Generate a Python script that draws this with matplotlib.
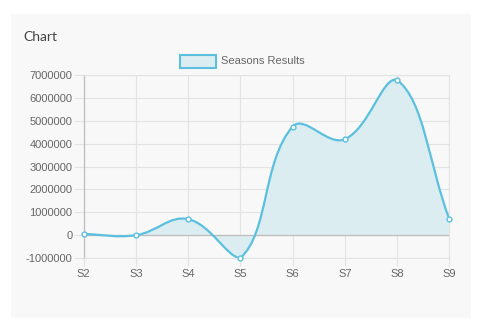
import numpy as np
import matplotlib
matplotlib.use("Agg")
import matplotlib.pyplot as plt
from matplotlib.path import Path
from matplotlib.patches import PathPatch, Rectangle

# data
seasons = ["S2", "S3", "S4", "S5", "S6", "S7", "S8", "S9"]
results = [50000, 0, 700000, -1000000, 4750000, 4200000, 6800000, 700000]
y_ticks = [-1000000, 0, 1000000, 2000000, 3000000, 4000000, 5000000, 6000000, 7000000]

line_color = "#5bc0de"
fill_color = "#dcedf2"
grid_color = "#e3e3e3"
text_color = "#666666"

W, H = 494, 335
fig = plt.figure(figsize=(W / 100, H / 100), dpi=100)
fig.patch.set_facecolor("white")

# light gray card behind the chart
fig.patches.append(Rectangle((11 / W, 1 - 318 / H), 460 / W, 304 / H,
                             transform=fig.transFigure, facecolor="#f8f8f8",
                             edgecolor="none", zorder=-10))
fig.text(23 / W, 1 - 37 / H, "Chart", fontsize=10, color="#444444",
         family="Lato", va="center", ha="left")

left, right, top, bottom = 83.7, 449.3, 75.3, 258.0
ax = fig.add_axes([left / W, 1 - bottom / H, (right - left) / W, (bottom - top) / H])
ax.set_facecolor("none")
ax.set_zorder(1)

ymin, ymax = -1000000, 7000000
n = len(seasons)
xs = np.arange(n, dtype=float)
ys = np.array(results, dtype=float)

# Chart.js style spline (tension 0.4), distances taken in pixel space
sx = (right - left) / (n - 1)
sy = (bottom - top) / (ymax - ymin)
tension = 0.4
ctrl_prev, ctrl_next = [], []
for i in range(n):
    p = (xs[max(i - 1, 0)], ys[max(i - 1, 0)])
    c = (xs[i], ys[i])
    q = (xs[min(i + 1, n - 1)], ys[min(i + 1, n - 1)])
    d01 = np.hypot((c[0] - p[0]) * sx, (c[1] - p[1]) * sy)
    d12 = np.hypot((q[0] - c[0]) * sx, (q[1] - c[1]) * sy)
    tot = d01 + d12
    s01 = d01 / tot if tot else 0
    s12 = d12 / tot if tot else 0
    fa, fb = tension * s01, tension * s12
    cp = [c[0] - fa * (q[0] - p[0]), c[1] - fa * (q[1] - p[1])]
    cn = [c[0] + fb * (q[0] - p[0]), c[1] + fb * (q[1] - p[1])]
    for pt in (cp, cn):
        pt[1] = min(max(pt[1], ymin), ymax)
    ctrl_prev.append(cp)
    ctrl_next.append(cn)

verts = [(xs[0], ys[0])]
codes = [Path.MOVETO]
for i in range(n - 1):
    verts += [tuple(ctrl_next[i]), tuple(ctrl_prev[i + 1]), (xs[i + 1], ys[i + 1])]
    codes += [Path.CURVE4] * 3

fill_verts = verts + [(xs[-1], 0), (xs[0], 0), (xs[0], ys[0])]
fill_codes = codes + [Path.LINETO, Path.LINETO, Path.CLOSEPOLY]
ax.add_patch(PathPatch(Path(fill_verts, fill_codes), facecolor=fill_color,
                       edgecolor="none", zorder=1))
ax.add_patch(PathPatch(Path(verts, codes), facecolor="none", edgecolor=line_color,
                       lw=1.6, zorder=3))
ax.plot(xs, ys, "o", ms=3.5, mfc="white", mec=line_color, mew=1.0, zorder=4,
        clip_on=False)

ax.set_xlim(0, n - 1)
ax.set_ylim(ymin, ymax)
ax.set_xticks(xs)
ax.set_xticklabels(seasons)
ax.set_yticks(y_ticks)
ax.set_yticklabels([str(v) for v in y_ticks])
ax.grid(True, color=grid_color, lw=0.8, zorder=0)
ax.axhline(0, color="#bdbdbd", lw=0.9, zorder=2)
ax.set_axisbelow(True)

for side in ("top", "right", "bottom"):
    ax.spines[side].set_color(grid_color)
    ax.spines[side].set_linewidth(0.8)
ax.spines["left"].set_color("#bdbdbd")
ax.spines["left"].set_linewidth(0.9)
ax.tick_params(axis="y", length=7, width=0.8, color=grid_color, pad=1,
               labelsize=8, labelcolor=text_color)
ax.tick_params(axis="x", length=6, width=0.8, color=grid_color, pad=2,
               labelsize=8, labelcolor=text_color)
for lab in ax.get_xticklabels() + ax.get_yticklabels():
    lab.set_family("Liberation Sans")

# legend drawn like Chart.js: swatch box + label
fig.patches.append(Rectangle((179.5 / W, 1 - 67.5 / H), 36.5 / W, 12 / H,
                             transform=fig.transFigure, facecolor=fill_color,
                             edgecolor=line_color, lw=1.5, zorder=5))
fig.text(221 / W, 1 - 61.5 / H, "Seasons Results", fontsize=8, color=text_color,
         family="Liberation Sans", va="center", ha="left")

fig.savefig("out.png", dpi=100)
